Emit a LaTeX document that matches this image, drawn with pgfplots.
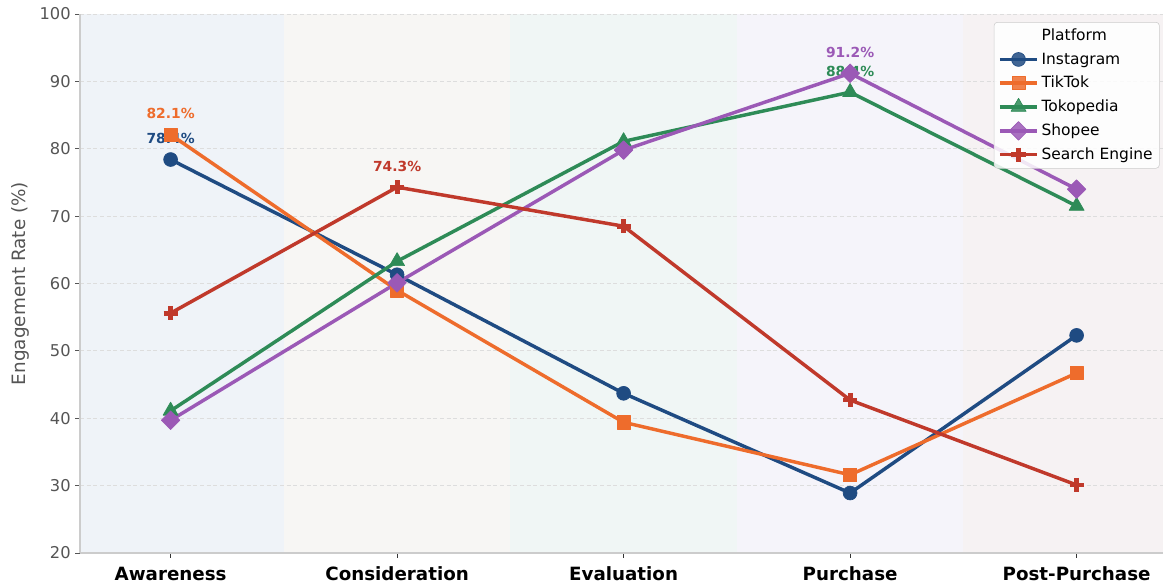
\documentclass[border=0pt]{standalone}
\usepackage{fontspec}
\setmainfont{DejaVu Sans}
\usepackage{pgfplots}
\pgfplotsset{compat=1.18}
\definecolor{cI}{HTML}{1F4B82}
\definecolor{cT}{HTML}{EE6C2C}
\definecolor{cK}{HTML}{2E8B57}
\definecolor{cS}{HTML}{9B59B6}
\definecolor{cE}{HTML}{C0392B}
\definecolor{bA}{HTML}{EFF3F8}
\definecolor{bB}{HTML}{F7F6F4}
\definecolor{bC}{HTML}{F0F6F5}
\definecolor{bD}{HTML}{F5F4FA}
\definecolor{bE}{HTML}{F6F2F3}
\definecolor{axgray}{HTML}{CCCCCC}
\definecolor{tickgray}{HTML}{555555}
\definecolor{gridgray}{HTML}{DDDDDD}
\begin{document}
\begin{tikzpicture}
\begin{axis}[
  set layers=standard,
  at={(0,0)}, anchor=south west,
  scale only axis, width=815.4pt, height=404.25pt,
  xmin=-0.4, xmax=4.4, ymin=20, ymax=100,
  xtick={0,1,2,3,4},
  xticklabels={Awareness,Consideration,Evaluation,Purchase,Post-Purchase},
  ytick={20,30,...,100},
  axis x line*=bottom, axis y line*=left,
  axis line style={color=axgray, line width=0.8pt},
  tick align=outside, major tick length=3.5pt,
  x tick style={color=black!80, line width=0.6pt},
  y tick style={color=tickgray, line width=0.6pt},
  ymajorgrids,
  grid style={color=gridgray, dash pattern=on 3pt off 2pt, line width=0.6pt},
  /pgf/number format/assume math mode=true,
  xticklabel style={font=\bfseries\fontsize{13.7}{16}\selectfont, text=black, yshift=-3.5pt},
  yticklabel style={font=\fontsize{12.2}{14}\selectfont, text=tickgray},
  ylabel={Engagement Rate (\%)},
  every axis y label/.style={at={(axis description cs:0,0.5)}, xshift=-45pt, rotate=90, anchor=center, font=\fontsize{13.8}{16}\selectfont, text=tickgray},
  legend style={at={(1,1)}, anchor=north east, xshift=-5.7pt, yshift=-6pt,
    draw=axgray, rounded corners=2.5pt, fill=white, fill opacity=0.85, text opacity=1,
    font=\fontsize{11.6}{13.8}\selectfont, row sep=3.6pt, inner sep=3pt,
    cells={anchor=west}},
  legend image code/.code={\draw[mark repeat=2,mark phase=2,#1] plot coordinates {(0pt,0pt) (14pt,0pt) (28pt,0pt)};},
  every axis plot/.append style={line width=2.6pt, line join=round},
]
% background bands
\addplot[fill=bA, draw=none, on layer=axis background, forget plot] coordinates {(-0.4,20)(0.5,20)(0.5,100)(-0.4,100)};
\addplot[fill=bB, draw=none, on layer=axis background, forget plot] coordinates {(0.5,20)(1.5,20)(1.5,100)(0.5,100)};
\addplot[fill=bC, draw=none, on layer=axis background, forget plot] coordinates {(1.5,20)(2.5,20)(2.5,100)(1.5,100)};
\addplot[fill=bD, draw=none, on layer=axis background, forget plot] coordinates {(2.5,20)(3.5,20)(3.5,100)(2.5,100)};
\addplot[fill=bE, draw=none, on layer=axis background, forget plot] coordinates {(3.5,20)(4.4,20)(4.4,100)(3.5,100)};

\addlegendimage{empty legend}\addlegendentry{Platform}

\addplot[color=cI, mark=*, mark size=5.2pt, mark options={solid, line width=0.5pt}]
  coordinates {(0,78.4)(1,61.3)(2,43.7)(3,28.9)(4,52.3)};
\addlegendentry{Instagram}
\node[font=\bfseries\fontsize{10.4}{12}\selectfont, text=cI] at (axis cs:0,78.4) [yshift=15.75pt] {78.4\%};

\addplot[color=cT, mark=square*, mark size=5pt, mark options={solid, line width=0.5pt}]
  coordinates {(0,82.1)(1,59.0)(2,39.4)(3,31.6)(4,46.7)};
\addlegendentry{TikTok}
\node[font=\bfseries\fontsize{10.4}{12}\selectfont, text=cT] at (axis cs:0,82.1) [yshift=15.75pt] {82.1\%};

\addplot[color=cK, mark=triangle*, mark size=6.5pt, mark options={solid, line width=0.5pt}]
  coordinates {(0,41.1)(1,63.3)(2,81.1)(3,88.4)(4,71.5)};
\addlegendentry{Tokopedia}
\node[font=\bfseries\fontsize{10.4}{12}\selectfont, text=cK] at (axis cs:3,88.4) [yshift=15.75pt] {88.4\%};

\addplot[color=cS, mark=diamond*, mark size=7pt, mark options={solid, line width=0.5pt, xscale=1.33}]
  coordinates {(0,39.7)(1,60.1)(2,79.8)(3,91.2)(4,74.0)};
\addlegendentry{Shopee}
\node[font=\bfseries\fontsize{10.4}{12}\selectfont, text=cS] at (axis cs:3,91.2) [yshift=15.75pt] {91.2\%};

\addplot[color=cE, mark=+, mark size=5.3pt, mark options={solid, line width=3.6pt}]
  coordinates {(0,55.6)(1,74.3)(2,68.5)(3,42.7)(4,30.1)};
\addlegendentry{Search Engine}
\node[font=\bfseries\fontsize{10.4}{12}\selectfont, text=cE] at (axis cs:1,74.3) [yshift=15.75pt] {74.3\%};
\end{axis}
\pgfresetboundingbox
\useasboundingbox (-60pt,-25.5pt) rectangle (812.25pt,414.75pt);
\end{tikzpicture}
\end{document}
